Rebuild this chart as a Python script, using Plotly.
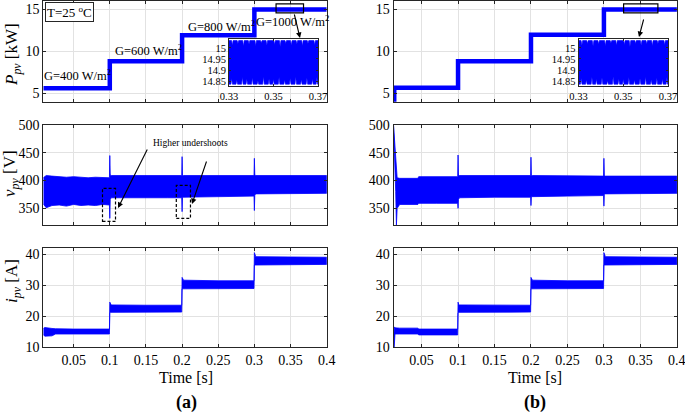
import plotly.graph_objects as go

# ---------------- data ----------------
# (a) power step levels
t_p_a = [0.008, 0.1, 0.2, 0.3, 0.4]
p_a = [5.6, 8.8, 11.9, 14.95, 14.95]
# (b) power with start-up
t_p_b = [0.0115, 0.0125, 0.1, 0.2, 0.3, 0.4]
p_b = [4.0, 5.65, 8.8, 11.95, 14.95, 14.95]

# (a) voltage ripple envelope
t_v_a = [0.008, 0.012, 0.02, 0.03, 0.04, 0.05, 0.06, 0.07, 0.08, 0.09, 0.0995, 0.1, 0.1006, 0.102,
         0.12, 0.15, 0.18, 0.1995, 0.2, 0.2006, 0.202, 0.25, 0.2995, 0.3, 0.3006, 0.302, 0.35, 0.4]
v_up_a = [405, 409, 408, 407, 406, 407, 406, 405, 406, 405, 405, 445, 410, 409,
          409, 409, 409, 409, 443, 409, 409, 409, 409, 440, 410, 409, 409, 409]
v_lo_a = [358, 351, 355, 356, 354, 357, 355, 356, 355, 357, 356, 332, 366, 369,
          368, 369, 369, 369, 344, 370, 371, 371, 372, 346, 374, 376, 377, 377]
# (b) voltage ripple envelope
t_v_b = [0.0115, 0.0125, 0.0145, 0.0155, 0.0165, 0.02, 0.045, 0.046, 0.07, 0.0995, 0.1, 0.1006, 0.102,
         0.15, 0.1995, 0.2, 0.2006, 0.202, 0.25, 0.2995, 0.3, 0.3006, 0.302, 0.35, 0.4]
v_up_b = [500, 480, 440, 410, 405, 404, 404, 407, 407, 407, 446, 410, 409,
          409, 409, 442, 409, 409, 409, 408, 440, 409, 408, 408, 408]
v_lo_b = [500, 440, 380, 320, 350, 357, 357, 359, 359, 359, 350, 366, 369,
          370, 370, 355, 371, 372, 372, 373, 354, 376, 377, 377, 377]

# (a) current ripple envelope
t_i_a = [0.008, 0.01, 0.02, 0.025, 0.05, 0.0995, 0.1, 0.1008, 0.102, 0.15, 0.1995, 0.2, 0.2008,
         0.202, 0.25, 0.2995, 0.3, 0.3008, 0.302, 0.35, 0.4]
i_up_a = [16.0, 16.3, 16.0, 15.9, 15.8, 15.8, 24.5, 23.8, 23.6, 23.5, 23.5, 32.5, 31.8,
          31.6, 31.4, 31.4, 40.5, 39.5, 39.2, 39.1, 39.0]
i_lo_a = [14.0, 13.5, 13.6, 14.2, 14.2, 14.2, 21.0, 21.2, 21.3, 21.3, 21.3, 28.8, 28.8,
          28.9, 28.9, 28.9, 36.5, 36.6, 36.7, 36.7, 36.7]
# (b) current ripple envelope
t_i_b = [0.0115, 0.0125, 0.0135, 0.02, 0.045, 0.046, 0.0995, 0.1, 0.1008, 0.102, 0.15, 0.1995, 0.2,
         0.2008, 0.202, 0.25, 0.2995, 0.3, 0.3008, 0.302, 0.35, 0.4]
i_up_b = [10.0, 16.5, 16.2, 16.1, 16.1, 15.8, 15.8, 24.5, 23.8, 23.6, 23.5, 23.5, 32.5,
          31.8, 31.6, 31.4, 31.4, 40.5, 39.5, 39.2, 39.1, 39.0]
i_lo_b = [10.0, 10.0, 14.2, 14.2, 14.2, 13.9, 13.9, 21.0, 21.2, 21.3, 21.3, 21.3, 28.8,
          28.8, 28.9, 28.9, 28.9, 36.5, 36.6, 36.7, 36.7, 36.7]

# zoomed power ripple (insets)
inset_base_up = 15.033
inset_base_lo = 14.836
inset_t_top = [0.3315, 0.334, 0.3365, 0.339, 0.342, 0.3445, 0.347, 0.3505, 0.353, 0.3555, 0.358,
               0.3605, 0.363, 0.3655, 0.3685]
inset_v_top = [15.012, 15.02, 15.008, 15.018, 15.01, 15.022, 15.012, 15.015, 15.006, 15.02, 15.012,
               15.017, 15.009, 15.02, 15.014]
inset_t_bot = [0.3312, 0.3335, 0.336, 0.338, 0.3405, 0.343, 0.3455, 0.348, 0.350, 0.3525, 0.355,
               0.3575, 0.360, 0.3625, 0.365, 0.3675, 0.3695]
inset_v_bot = [14.862, 14.855, 14.868, 14.858, 14.865, 14.852, 14.87, 14.86, 14.857, 14.866, 14.855,
               14.862, 14.869, 14.856, 14.864, 14.858, 14.866]

x_ticks = [0.05, 0.1, 0.15, 0.2, 0.25, 0.3, 0.35, 0.4]
x_tick_text = ["0.05", "0.1", "0.15", "0.2", "0.25", "0.3", "0.35", "0.4"]
p_ticks = [5, 10, 15]
v_ticks = [350, 400, 450, 500]
i_ticks = [10, 20, 30, 40]
inset_x_ticks = [0.33, 0.35, 0.37]
inset_y_ticks = [14.85, 14.9, 14.95, 15.0]
inset_y_text = ["14.85", "14.9", "14.95", "15"]

g_labels = ["G=400 W/m<sup>2</sup>", "G=600 W/m<sup>2</sup>", "G=800 W/m<sup>2</sup>", "G=1000 W/m<sup>2</sup>"]

# ---------------- figure ----------------
W, H = 685, 412
BLUE = "#0000ff"
FONT = "Liberation Serif, Times New Roman, serif"
AX = "#262626"
GRID = "#e2e2e2"


def px(x):
    return x / W


def py(y):
    return 1 - y / H


def band(t, up, lo):
    return list(t) + list(t)[::-1], list(up) + list(lo)[::-1]


def spiky(base, ts, vs, t0, t1, half=0.00035):
    xs, ys = [t0], [base]
    for t, v in zip(ts, vs):
        xs += [t - half, t, t + half]
        ys += [base, v, base]
    xs.append(t1)
    ys.append(base)
    return xs, ys


fig = go.Figure()

def add_band(t, up, lo, xa, ya):
    bx, by = band(t, up, lo)
    fig.add_trace(go.Scatter(x=bx, y=by, mode="lines", fill="toself", fillcolor=BLUE,
                             line=dict(color=BLUE, width=0.8), xaxis=xa, yaxis=ya,
                             hoverinfo="skip", showlegend=False))

# power lines
fig.add_trace(go.Scatter(x=t_p_a, y=p_a, mode="lines", line=dict(color=BLUE, width=4.5, shape="hv"),
                         xaxis="x", yaxis="y", hoverinfo="skip", showlegend=False))
fig.add_trace(go.Scatter(x=t_p_b, y=p_b, mode="lines", line=dict(color=BLUE, width=4.5, shape="hv"),
                         xaxis="x4", yaxis="y4", hoverinfo="skip", showlegend=False))
add_band(t_v_a, v_up_a, v_lo_a, "x2", "y2")
add_band(t_i_a, i_up_a, i_lo_a, "x3", "y3")
add_band(t_v_b, v_up_b, v_lo_b, "x5", "y5")
add_band(t_i_b, i_up_b, i_lo_b, "x6", "y6")

# insets
ux, uy = spiky(inset_base_up, inset_t_top, inset_v_top, 0.33, 0.37)
lx, ly = spiky(inset_base_lo, inset_t_bot, inset_v_bot, 0.33, 0.37)
for xa, ya in (("x7", "y7"), ("x8", "y8")):
    fig.add_trace(go.Scatter(x=ux + lx[::-1], y=uy + ly[::-1], mode="lines", fill="toself",
                             fillcolor=BLUE, line=dict(color=BLUE, width=0.6), xaxis=xa, yaxis=ya,
                             hoverinfo="skip", showlegend=False))

tickfont = dict(family=FONT, size=14, color="black")

def xax(dom, rng, labels):
    return dict(domain=dom, range=rng, tickvals=x_ticks, ticktext=x_tick_text, showticklabels=labels,
                showgrid=True, gridcolor=GRID, gridwidth=1, zeroline=False, showline=True, mirror="allticks",
                linecolor=AX, linewidth=1, ticks="inside", ticklen=3, tickcolor=AX, tickfont=tickfont,
                automargin=False, ticklabeloverflow="allow")

def yax(dom, rng, tv, anchor):
    return dict(domain=dom, range=rng, tickvals=tv, showgrid=True, gridcolor=GRID, gridwidth=1,
                zeroline=False, showline=True, mirror="allticks", linecolor=AX, linewidth=1,
                ticks="inside", ticklen=3, tickcolor=AX, tickfont=tickfont, anchor=anchor,
                automargin=False)

XL = [px(43.3), px(326.8)]
XR = [px(393.5), px(677)]
Y1 = [py(101.7), py(0.6)]
Y2 = [py(225), py(125)]
Y3 = [py(347), py(248)]

insetfont = dict(family=FONT, size=10.5, color="black")

def ixax(dom, anchor):
    return dict(domain=dom, range=[0.33, 0.37], tickvals=inset_x_ticks, showgrid=False, zeroline=False,
                showline=True, mirror="allticks", linecolor=AX, linewidth=1, ticks="inside", ticklen=2,
                tickcolor=AX, tickfont=insetfont, anchor=anchor, automargin=False)

def iyax(dom, anchor):
    return dict(domain=dom, range=[14.828, 15.04], tickvals=inset_y_ticks, ticktext=inset_y_text,
                showgrid=False, zeroline=False, showline=True, mirror="allticks", linecolor=AX, linewidth=1,
                ticks="inside", ticklen=2, tickcolor=AX, tickfont=insetfont, anchor=anchor, automargin=False)

IY = [py(86), py(39)]

fig.update_layout(
    width=W, height=H, autosize=False,
    margin=dict(l=0, r=0, t=0, b=0, pad=0, autoexpand=False),
    paper_bgcolor="white", plot_bgcolor="white",
    showlegend=False,
    xaxis=xax(XL, [0.008, 0.4002], False) | dict(anchor="y"),
    yaxis=yax(Y1, [4, 16], p_ticks, "x"),
    xaxis2=xax(XL, [0.008, 0.4002], False) | dict(anchor="y2"),
    yaxis2=yax(Y2, [320, 500], v_ticks, "x2"),
    xaxis3=xax(XL, [0.008, 0.4002], True) | dict(anchor="y3"),
    yaxis3=yax(Y3, [10, 42], i_ticks, "x3"),
    xaxis4=xax(XR, [0.0115, 0.4002], False) | dict(anchor="y4"),
    yaxis4=yax(Y1, [4, 16], p_ticks, "x4"),
    xaxis5=xax(XR, [0.0115, 0.4002], False) | dict(anchor="y5"),
    yaxis5=yax(Y2, [320, 500], v_ticks, "x5"),
    xaxis6=xax(XR, [0.0115, 0.4002], True) | dict(anchor="y6"),
    yaxis6=yax(Y3, [10, 42], i_ticks, "x6"),
    xaxis7=ixax([px(229), px(318)], "y7"),
    yaxis7=iyax(IY, "x7"),
    xaxis8=ixax([px(578.5), px(668)], "y8"),
    yaxis8=iyax(IY, "x8"),
)

ann = []
def txt(x, y, s, size=13, **kw):
    d = dict(x=px(x), y=py(y), xref="paper", yref="paper", text=s, showarrow=False,
             xanchor="center", yanchor="middle", font=dict(family=FONT, size=size, color="black"))
    d.update(kw)
    ann.append(d)

# y titles
txt(13, 55, "<i>P</i><sub><i>pv</i></sub> [kW]", size=17, textangle=-90)
txt(11, 174, "<i>v</i><sub><i>pv</i></sub> [V]", size=17, textangle=-90)
txt(13, 281, "<i>i</i><sub><i>pv</i></sub> [A]", size=17, textangle=-90)
# x titles and panel labels
txt(186, 377, "Time [s]", size=16)
txt(535, 377, "Time [s]", size=16)
txt(186, 402, "<b>(a)</b>", size=18)
txt(535, 402, "<b>(b)</b>", size=18)
# temperature box
txt(69, 12, "T=25 <sup>o</sup>C", size=13, bordercolor=AX, borderwidth=1, borderpad=1, bgcolor="white")
# irradiance labels
for (gx, gy), s in zip([(77, 75), (148, 50), (221, 26), (292, 21)], g_labels):
    txt(gx, gy, s, size=12.5)
# undershoot note
txt(190, 143, "Higher undershoots", size=9.5)

# arrows (head position, tail offset in px)
def arrow(hx, hy, axo, ayo):
    ann.append(dict(x=px(hx), y=py(hy), xref="paper", yref="paper", ax=axo, ay=ayo, text="",
                    showarrow=True, arrowhead=2, arrowsize=1, arrowwidth=1.1, arrowcolor="black"))

arrow(300, 38, -6, -25)
arrow(639, 37, 5, -19)
arrow(118, 208, 30, -60)
arrow(192, 204, 15, -44)

fig.update_layout(annotations=ann)

shapes = [
    dict(type="rect", xref="x", yref="y", x0=0.33, x1=0.368, y0=14.55, y1=15.6,
         line=dict(color="black", width=1.2)),
    dict(type="rect", xref="x4", yref="y4", x0=0.327, x1=0.374, y0=14.55, y1=15.6,
         line=dict(color="black", width=1.2)),
    dict(type="rect", xref="x2", yref="y2", x0=0.0899, x1=0.1079, y0=326.5, y1=386,
         line=dict(color="black", width=1.2, dash="3px,2px")),
    dict(type="rect", xref="x2", yref="y2", x0=0.192, x1=0.2116, y0=332, y1=391.5,
         line=dict(color="black", width=1.2, dash="3px,2px")),
]
fig.update_layout(shapes=shapes)

fig.write_html("out.html", config={"displayModeBar": False, "staticPlot": True},
               post_script="document.body.style.margin='0';document.body.style.overflow='hidden';")
